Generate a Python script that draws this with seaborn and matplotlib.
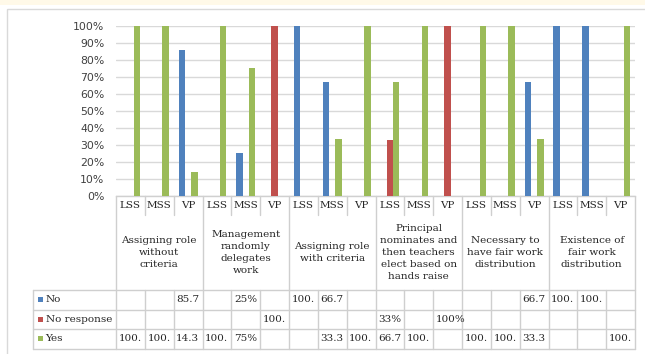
import numpy as np
import pandas as pd
import matplotlib
matplotlib.use("Agg")
import matplotlib.pyplot as plt
from matplotlib.patches import Rectangle
from matplotlib.ticker import FuncFormatter
import seaborn as sns

# ---- data -------------------------------------------------------------
categories = [
    "Assigning role\nwithout\ncriteria",
    "Management\nrandomly\ndelegates\nwork",
    "Assigning role\nwith criteria",
    "Principal\nnominates and\nthen teachers\nelect based on\nhands raise",
    "Necessary to\nhave fair work\ndistribution",
    "Existence of\nfair work\ndistribution",
]
groups = ["LSS", "MSS", "VP"]
series = ["No", "No response", "Yes"]
colors = ["#4F81BD", "#C0504D", "#9BBB59"]

nan = np.nan
no = [nan, nan, 85.7, nan, 25, nan, 100, 66.7, nan,
      nan, nan, nan, nan, nan, 66.7, 100, 100, nan]
no_response = [nan, nan, nan, nan, nan, 100, nan, nan, nan,
               33, nan, 100, nan, nan, nan, nan, nan, nan]
yes = [100, 100, 14.3, 100, 75, nan, nan, 33.3, 100,
       66.7, 100, nan, 100, 100, 33.3, nan, nan, 100]

# cell texts shown in the data table
no_text = ["", "", "85.7", "", "25%", "", "100.", "66.7", "",
           "", "", "", "", "", "66.7", "100.", "100.", ""]
no_response_text = ["", "", "", "", "", "100.", "", "", "",
                    "33%", "", "100%", "", "", "", "", "", ""]
yes_text = ["100.", "100.", "14.3", "100.", "75%", "", "", "33.3", "100.",
            "66.7", "100.", "", "100.", "100.", "33.3", "", "", "100."]

y_ticks = [0, 10, 20, 30, 40, 50, 60, 70, 80, 90, 100]

# ---- long-form table for seaborn -------------------------------------
columns = [f"{c}|{g}" for c in range(len(categories)) for g in groups]
rows = []
for name, vals in zip(series, [no, no_response, yes]):
    for col, v in zip(columns, vals):
        if not np.isnan(v):
            rows.append({"column": col, "series": name, "value": v})
df = pd.DataFrame(rows)

sns.set_theme(style="white")
plt.rcParams["font.family"] = ["DejaVu Sans"]

W, H = 645, 354
fig = plt.figure(figsize=(W / 100, H / 100), dpi=100)

# plot area in pixels
L, R, T, B = 116, 635, 25.5, 196

# overlay in pixel coordinates for frame and data table
ov = fig.add_axes([0, 0, 1, 1], zorder=0)
ov.set_xlim(0, W)
ov.set_ylim(H, 0)
ov.axis("off")

ax = fig.add_axes([L / W, 1 - B / H, (R - L) / W, (B - T) / H], zorder=1)
ax.patch.set_alpha(0)

sns.barplot(data=df, x="column", y="value", hue="series",
            order=columns, hue_order=series, palette=colors,
            width=0.66, saturation=1, legend=False, ax=ax, zorder=3,
            linewidth=0, edgecolor="none")

ax.set_xlim(-0.5, len(columns) - 0.5)
ax.set_ylim(0, 100)
ax.set_yticks(y_ticks)
ax.yaxis.set_major_formatter(FuncFormatter(lambda v, _: f"{v:.0f}%"))
ax.tick_params(axis="y", length=0, pad=8.5, labelsize=7.8, labelcolor="#404040")
ax.tick_params(axis="x", length=0, labelbottom=False)
ax.set_xlabel("")
ax.set_ylabel("")
ax.grid(axis="y", color="#D9D9D9", linewidth=1, zorder=0)
ax.set_axisbelow(True)
for s in ["left", "right", "top"]:
    ax.spines[s].set_visible(False)
ax.spines["bottom"].set_color("#D0D0D0")
ax.spines["bottom"].set_linewidth(1)

# ---- frame and top band ----------------------------------------------
ov.add_patch(Rectangle((0, 0), W, 4.5, color="#FFF9E8", lw=0))
ov.add_patch(Rectangle((6.5, 8.5), W + 10, H + 10, fill=False,
                       edgecolor="#D9D9D9", lw=1))

# ---- data table -------------------------------------------------------
line_c = "#CFCFCF"
text_c = "#262626"
serif = ["DejaVu Serif"]
tfs = 7.5

n = len(columns)
cw = (R - L) / n
xe = [L + i * cw for i in range(n + 1)]
sub_bottom = 215
row_edges = [290, 309.5, 329, 348.5]
leg_left = 32.5

for i, x in enumerate(xe):
    if i % 3 == 0:
        ov.plot([x, x], [B, row_edges[-1]], color=line_c, lw=1)
    else:
        ov.plot([x, x], [B, sub_bottom], color=line_c, lw=1)
        ov.plot([x, x], [row_edges[0], row_edges[-1]], color=line_c, lw=1)
for y in row_edges:
    ov.plot([leg_left, R], [y, y], color=line_c, lw=1)
ov.plot([leg_left, leg_left], [row_edges[0], row_edges[-1]], color=line_c, lw=1)

# sub-group labels
for i, col in enumerate(columns):
    g = col.split("|")[1]
    ov.text((xe[i] + xe[i + 1]) / 2, 205.5, g, ha="center", va="center",
            fontsize=tfs, family=serif, color=text_c)

# category labels
for c, name in enumerate(categories):
    ov.text((xe[3 * c] + xe[3 * c + 3]) / 2, 252.5, name, ha="center",
            va="center", fontsize=tfs, family=serif, color=text_c,
            linespacing=1.4, multialignment="center")

# legend keys and row values
for r, (name, colr, texts) in enumerate(zip(series, colors,
                                            [no_text, no_response_text, yes_text])):
    yc = (row_edges[r] + row_edges[r + 1]) / 2
    ov.add_patch(Rectangle((37.5, yc - 2.6), 5, 5, color=colr, lw=0))
    ov.text(45.5, yc, name, ha="left", va="center", fontsize=tfs,
            family=serif, color=text_c)
    for i, s in enumerate(texts):
        if s:
            ov.text(xe[i] + 2.5, yc, s, ha="left", va="center", fontsize=tfs,
                    family=serif, color=text_c)

fig.savefig("out.png", dpi=100)
